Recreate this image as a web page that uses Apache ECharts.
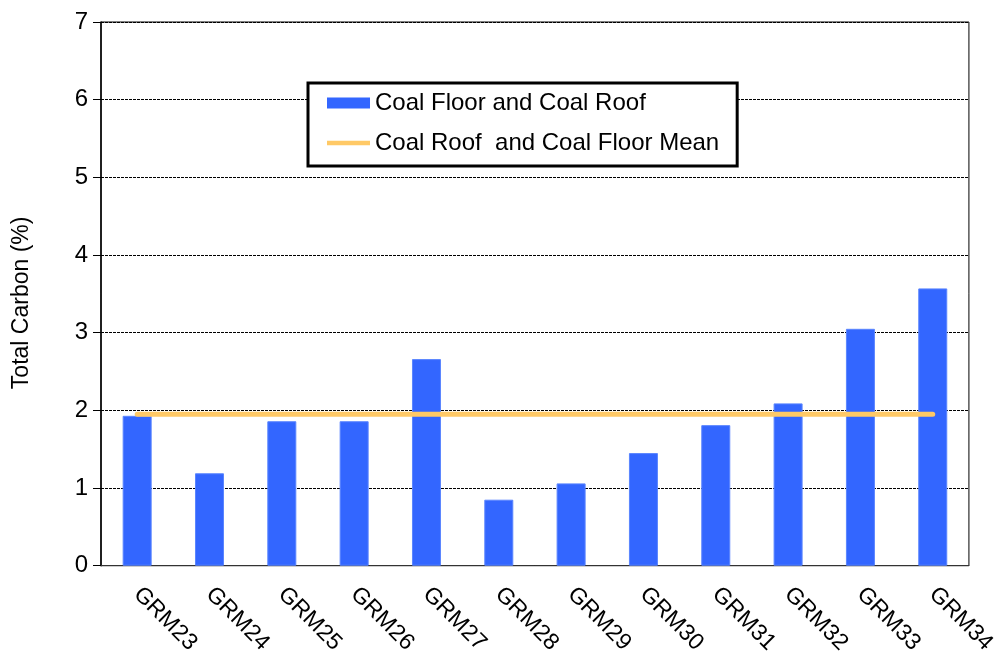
<!DOCTYPE html>
<html>
<head>
<meta charset="utf-8">
<script src="https://cdn.jsdelivr.net/npm/echarts@6/dist/echarts.min.js"></script>
<style>
  html, body { margin: 0; padding: 0; background: #fff; }
</style>
</head>
<body>
<div id="mycharts" style="width: 999px; height: 657px"></div>
<script>
// data
const samples = ["GRM23", "GRM24", "GRM25", "GRM26", "GRM27", "GRM28",
  "GRM29", "GRM30", "GRM31", "GRM32", "GRM33", "GRM34"];
const totalCarbon = [1.93, 1.19, 1.86, 1.86, 2.66, 0.85, 1.06, 1.45, 1.81, 2.09, 3.05, 3.57];
const meanCarbon = [1.95, 1.95, 1.95, 1.95, 1.95, 1.95, 1.95, 1.95, 1.95, 1.95, 1.95, 1.95];
const yTicks = [0, 1, 2, 3, 4, 5, 6, 7];

const font = "'Liberation Sans', Arial, sans-serif";
var chartDom = document.getElementById("mycharts");
var myChart = echarts.init(chartDom);
var option;

option = {
  backgroundColor: "#fff",
  animation: false,
  textStyle: { fontFamily: font },
  grid: {
    left: 101,
    right: 29,
    top: 22,
    bottom: 88,
    show: true,
    borderColor: "#000",
    borderWidth: 1,
  },
  legend: {
    orient: "vertical",
    left: 308,
    top: 83,
    padding: [6, 18, 9, 19],
    itemGap: 12,
    itemWidth: 43,
    itemHeight: 11,
    borderColor: "#000",
    borderWidth: 3,
    backgroundColor: "#fff",
    textStyle: { fontSize: 24, color: "#000", fontFamily: font, lineHeight: 28 },
    data: [
      { name: "Coal Floor and Coal Roof", icon: "rect", itemStyle: { borderWidth: 0 } },
      // thin flat bar so the line entry looks like a thick stroke
      { name: "Coal Roof  and Coal Floor Mean", icon: "path://M0,0 L43,0 L43,4.5 L0,4.5 Z" },
    ],
  },
  xAxis: {
    type: "category",
    data: samples,
    axisLine: { lineStyle: { color: "#333", width: 1 } },
    axisTick: { length: 8, lineStyle: { color: "#000" } },
    axisLabel: {
      rotate: -45,
      margin: 25,
      fontSize: 23,
      color: "#000",
      fontFamily: font,
    },
  },
  yAxis: {
    type: "value",
    min: yTicks[0],
    max: yTicks[yTicks.length - 1],
    interval: 1,
    name: "Total Carbon (%)",
    nameLocation: "middle",
    nameGap: 68,
    nameTextStyle: { fontSize: 23, color: "#000", fontFamily: font, padding: [0, 18, 0, 0] },
    axisLine: { show: true, lineStyle: { color: "#000", width: 1.5 } },
    axisTick: { show: true, length: 8, lineStyle: { color: "#000" } },
    axisLabel: { fontSize: 24, color: "#000", margin: 13, fontFamily: font },
    splitLine: { lineStyle: { color: "#000", type: [3, 1], width: 1 } },
  },
  series: [
    {
      name: "Coal Floor and Coal Roof",
      type: "bar",
      barWidth: 29,
      data: totalCarbon,
      itemStyle: { color: "#3366FF", borderColor: "#5a85ff", borderWidth: 1 },
    },
    {
      name: "Coal Roof  and Coal Floor Mean",
      type: "line",
      symbol: "none",
      data: meanCarbon,
      lineStyle: { color: "#FFC966", width: 5, cap: "round" },
      itemStyle: { color: "#FFC966" },
      z: 5,
    },
  ],
};

option && myChart.setOption(option);
</script>
</body>
</html>
